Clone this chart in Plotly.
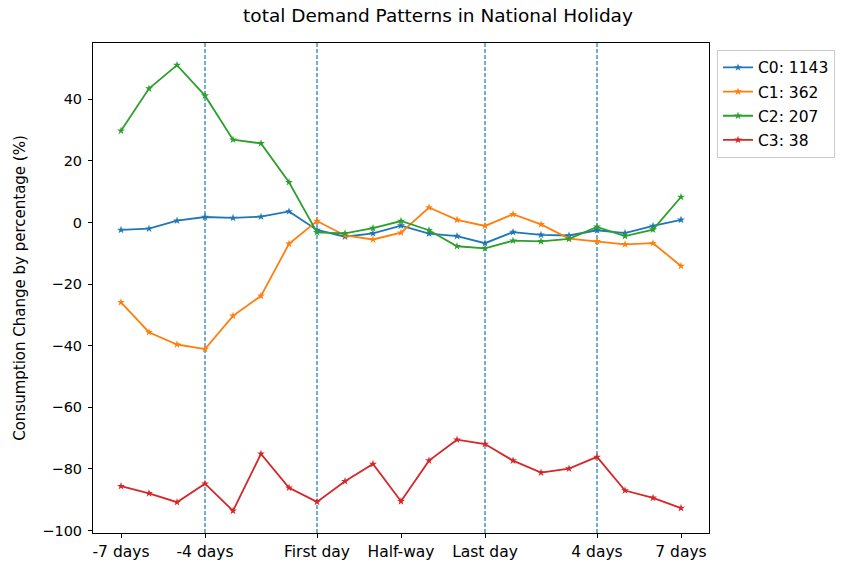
import plotly.graph_objects as go

x_idx = list(range(21))
tick_pos = [0, 3, 7, 10, 13, 17, 20]
tick_labels = ["-7 days", "-4 days", "First day", "Half-way", "Last day", "4 days", "7 days"]
vlines = [3, 7, 13, 17]

names = ["C0: 1143", "C1: 362", "C2: 207", "C3: 38"]
colors = ["#1f77b4", "#ff7f0e", "#2ca02c", "#d62728"]

c0 = [-2.4, -2.0, 0.6, 1.8, 1.5, 1.9, 3.6, -2.4, -4.6, -3.5, -1.0,
      -3.6, -4.4, -6.7, -3.1, -4.0, -4.2, -2.5, -3.4, -1.1, 0.9]
c1 = [-25.9, -35.6, -39.6, -41.1, -30.3, -23.8, -6.9, 0.5, -4.2, -5.5, -3.3,
      4.9, 0.9, -1.1, 2.7, -0.6, -5.2, -6.1, -7.1, -6.7, -14.1]
c2 = [29.8, 43.5, 51.1, 41.2, 26.9, 25.7, 13.1, -3.2, -3.5, -1.8, 0.5,
      -2.5, -7.7, -8.4, -5.9, -6.1, -5.3, -1.4, -4.4, -2.3, 8.3]
c3 = [-85.6, -87.9, -90.8, -84.8, -93.6, -75.1, -86.1, -90.7, -84.0, -78.4, -90.5,
      -77.3, -70.5, -71.9, -77.3, -81.2, -79.9, -76.1, -87.0, -89.4, -92.7]
series = [c0, c1, c2, c3]

fig = go.Figure()
for i, (name, col, ys) in enumerate(zip(names, colors, series)):
    fig.add_trace(go.Scatter(
        x=x_idx, y=ys, name=name, mode="lines+markers", legendgroup=f"g{i}",
        line=dict(color=col, width=1.8),
        marker=dict(symbol="star", size=6, color=col),
    ))

for v in vlines:
    fig.add_vline(x=v, line=dict(color="#1f77b4", width=1.2, dash="4px,2px"), layer="below")

fig.update_layout(
    width=843, height=563,
    margin=dict(l=93, r=134, t=43, b=30, autoexpand=False),
    paper_bgcolor="white", plot_bgcolor="white",
    font=dict(family="DejaVu Sans", size=14, color="black"),
    title=dict(text="total Demand Patterns in National Holiday", x=438/843, xanchor="center",
               y=1 - 16/563, yanchor="middle", font=dict(size=18.5)),
    legend=dict(x=1.013, y=0.986, xanchor="left", yanchor="top",
                bordercolor="#cccccc", borderwidth=1, font=dict(size=15.5),
                itemwidth=30, tracegroupgap=1),
    showlegend=True,
)
fig.update_xaxes(range=[-1, 21], tickvals=tick_pos, ticktext=tick_labels, automargin=False,
                 showgrid=False, zeroline=False, showline=True, linecolor="black",
                 mirror=True, ticks="outside", ticklen=4, tickcolor="black", linewidth=1,
                 tickfont=dict(size=15.5))
fig.update_yaxes(range=[-100.8, 58.3], tickvals=[-100, -80, -60, -40, -20, 0, 20, 40], automargin=False,
                 ticktext=["\u2212100", "\u221280", "\u221260", "\u221240", "\u221220", "0", "20", "40"],
                 showgrid=False, zeroline=False, showline=True, linecolor="black",
                 mirror=True, ticks="outside", ticklen=4, tickcolor="black", linewidth=1,
                 tickfont=dict(size=14.5), ticklabelstandoff=3,
                 title=dict(text="Consumption Change by percentage (%)", standoff=13, font=dict(size=15)))

fig.write_html("out.html", config={"displayModeBar": False},
               post_script="document.body.style.margin='0';document.body.style.padding='0';")
